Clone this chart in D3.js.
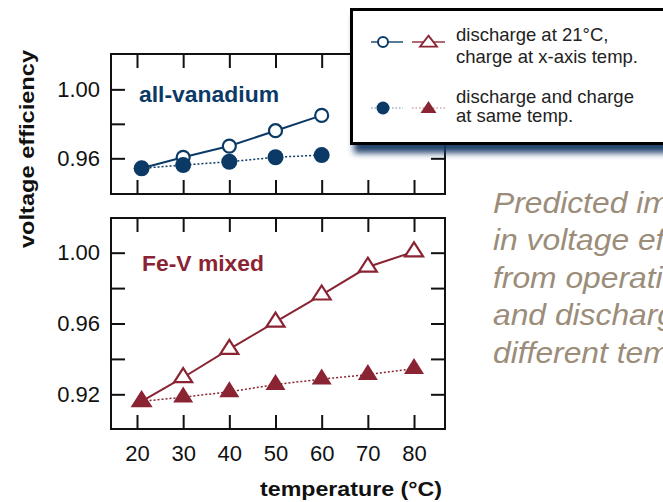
<!DOCTYPE html>
<html>
<head>
<meta charset="utf-8">
<script src="https://cdn.jsdelivr.net/npm/d3@7"></script>
<style>
  body { margin: 0; background: #fff; }
  svg { display: block; font-family: "Liberation Sans", Arial, sans-serif; }
</style>
</head>
<body>
<script>
// values
var xTicks = [20, 30, 40, 50, 60, 70, 80];
var vanTemps = [21, 30, 40, 50, 60];
var vanOpen = [0.9542, 0.9606, 0.9671, 0.9760, 0.9849];
var vanFilled = [0.9542, 0.9561, 0.9580, 0.9606, 0.9619];
var fevTemps = [21, 30, 40, 50, 60, 70, 80];
var fevOpen = [0.9160, 0.9295, 0.9455, 0.9609, 0.9762, 0.9919, 1.0006];
var fevFilled = [0.9160, 0.9184, 0.9214, 0.9255, 0.9286, 0.9311, 0.9345];
var topTicks = [0.96, 0.98, 1.00];
var topTickLabels = ["0.96", "", "1.00"];
var botTicks = [0.92, 0.94, 0.96, 0.98, 1.00];
var botTickLabels = ["0.92", "", "0.96", "", "1.00"];
var legendText = [["discharge at 21\u00b0C,", "charge at x-axis temp."],
                  ["discharge and charge", "at same temp."]];
var noteLines = ["Predicted improvement", "in voltage efficiency", "from operating charge",
                 "and discharge at", "different temperatures"];

var navy = "#0b3a66", maroon = "#8a2433";

var svg = d3.select("body").append("svg")
    .attr("width", 663)
    .attr("height", 502);

var defs = svg.append("defs");
defs.append("filter")
    .attr("id", "shadow")
    .attr("x", "-10%").attr("y", "-10%")
    .attr("width", "130%").attr("height", "140%")
  .append("feDropShadow")
    .attr("dx", 4).attr("dy", 8)
    .attr("stdDeviation", 3)
    .attr("flood-color", "#163a66")
    .attr("flood-opacity", 0.95);

// custom triangle: centroid at origin, width w, height h
function tri(w, h) {
  return {draw: function(ctx) {
    ctx.moveTo(0, -2 * h / 3);
    ctx.lineTo(w / 2, h / 3);
    ctx.lineTo(-w / 2, h / 3);
    ctx.closePath();
  }};
}

var x = d3.scaleLinear().domain([14.37, 86.71]).range([111, 445]);

function panel(y, yTicks, yLabels, showX) {
  var g = svg.append("g");
  var r = y.range();

  g.append("rect")
      .attr("x", 111).attr("y", r[1])
      .attr("width", 334).attr("height", r[0] - r[1])
      .attr("fill", "none")
      .attr("stroke", "#111")
      .attr("stroke-width", 2);

  var left = g.append("g")
      .attr("transform", "translate(111,0)")
      .call(d3.axisLeft(y).tickValues(yTicks).tickSize(-14).tickPadding(11)
        .tickFormat(function(d, i) { return yLabels[i]; }));
  var right = g.append("g")
      .attr("transform", "translate(445,0)")
      .call(d3.axisRight(y).tickValues(yTicks).tickSize(-14).tickFormat(""));
  var top = g.append("g")
      .attr("transform", "translate(0," + r[1] + ")")
      .call(d3.axisTop(x).tickValues(xTicks).tickSize(-14).tickFormat(""));
  var bottom = g.append("g")
      .attr("transform", "translate(0," + r[0] + ")")
      .call(d3.axisBottom(x).tickValues(xTicks).tickSize(-14).tickPadding(16)
        .tickFormat(showX ? d3.format("d") : ""));

  [left, right, top, bottom].forEach(function(a) {
    a.select(".domain").remove();
    a.selectAll("line").attr("stroke", "#111").attr("stroke-width", 2);
    a.selectAll("text").attr("font-size", 22).attr("fill", "#111")
      .attr("font-family", "'Liberation Sans', Arial, sans-serif");
  });
  return g;
}

function series(g, y, temps, vals, color, dashed) {
  var pts = temps.map(function(t, i) { return {t: t, v: vals[i]}; });
  g.append("path")
      .datum(pts)
      .attr("fill", "none")
      .attr("stroke", color)
      .attr("stroke-width", dashed ? 1.5 : 2)
      .attr("stroke-dasharray", dashed ? "2,2" : null)
      .attr("d", d3.line().x(function(d) { return x(d.t); }).y(function(d) { return y(d.v); }));
  return g.selectAll(null)
      .data(pts)
      .enter().append("path")
      .attr("transform", function(d) { return "translate(" + x(d.t) + "," + y(d.v) + ")"; });
}

// all-vanadium
var yTop = d3.scaleLinear().domain([0.9393, 1.0205]).range([194, 54]);
var gTop = panel(yTop, topTicks, topTickLabels, false);
series(gTop, yTop, vanTemps, vanOpen, navy, false)
    .attr("d", d3.symbol(d3.symbolCircle, Math.PI * 6.5 * 6.5))
    .attr("fill", "#fff").attr("stroke", navy).attr("stroke-width", 2.2);
series(gTop, yTop, vanTemps, vanFilled, navy, true)
    .attr("d", d3.symbol(d3.symbolCircle, Math.PI * 8 * 8))
    .attr("fill", navy);
gTop.append("text")
    .attr("x", 139).attr("y", 102)
    .attr("font-size", 22).attr("font-weight", "bold")
    .attr("fill", navy)
    .attr("textLength", 140).attr("lengthAdjust", "spacingAndGlyphs")
    .text("all-vanadium");

// Fe-V mixed
var yBot = d3.scaleLinear().domain([0.9004, 1.0196]).range([429, 218]);
var gBot = panel(yBot, botTicks, botTickLabels, true);
series(gBot, yBot, fevTemps, fevOpen, maroon, false)
    .attr("d", d3.symbol(tri(18, 14)))
    .attr("fill", "#fff").attr("stroke", maroon).attr("stroke-width", 2.2);
series(gBot, yBot, fevTemps, fevFilled, maroon, true)
    .attr("d", d3.symbol(tri(20, 16)))
    .attr("fill", maroon);
gBot.append("text")
    .attr("x", 142).attr("y", 271)
    .attr("font-size", 22).attr("font-weight", "bold")
    .attr("fill", maroon)
    .attr("textLength", 122).attr("lengthAdjust", "spacingAndGlyphs")
    .text("Fe-V mixed");

// axis titles
svg.append("text")
    .attr("transform", "translate(34,149)rotate(-90)")
    .attr("text-anchor", "middle")
    .attr("font-size", 20).attr("font-weight", "bold").attr("fill", "#111")
    .attr("textLength", 198).attr("lengthAdjust", "spacingAndGlyphs")
    .text("voltage efficiency");
svg.append("text")
    .attr("x", 260).attr("y", 496)
    .attr("font-size", 20).attr("font-weight", "bold").attr("fill", "#111")
    .attr("textLength", 182).attr("lengthAdjust", "spacingAndGlyphs")
    .text("temperature (\u00b0C)");

// side note (runs off the right edge, as in the slide)
svg.append("g")
    .attr("transform", "translate(493,0)scale(1.06,1)")
  .selectAll("text")
    .data(noteLines)
    .enter().append("text")
    .attr("x", 0)
    .attr("y", function(d, i) { return 212.7 + i * 37.5; })
    .attr("font-size", 30)
    .attr("font-style", "italic")
    .attr("fill", "#9b8d79")
    .text(function(d) { return d; });

// legend
var lg = svg.append("g");
lg.append("rect")
    .attr("x", 351.5).attr("y", 9.5)
    .attr("width", 360).attr("height", 134)
    .attr("fill", "#fff")
    .attr("stroke", "#000")
    .attr("stroke-width", 3)
    .attr("filter", "url(#shadow)");

var rows = [
  {y: 42, dashed: false, circ: d3.symbol(d3.symbolCircle, Math.PI * 25), tri: d3.symbol(tri(17, 11)), open: true},
  {y: 108, dashed: true, circ: d3.symbol(d3.symbolCircle, Math.PI * 6.5 * 6.5), tri: d3.symbol(tri(16, 12)), open: false}
];
rows.forEach(function(r, i) {
  [[371, 403, navy], [412, 445, maroon]].forEach(function(s) {
    lg.append("line")
        .attr("x1", s[0]).attr("x2", s[1])
        .attr("y1", r.y).attr("y2", r.y)
        .attr("stroke", s[2])
        .attr("stroke-width", r.dashed ? 1.2 : 1.5)
        .attr("stroke-dasharray", r.dashed ? "1.5,2" : null)
        .attr("stroke-opacity", r.dashed ? 0.6 : 0.9);
  });
  lg.append("path")
      .attr("transform", "translate(383," + r.y + ")")
      .attr("d", r.circ)
      .attr("fill", r.open ? "#fff" : navy)
      .attr("stroke", r.open ? navy : "none")
      .attr("stroke-width", 2);
  lg.append("path")
      .attr("transform", "translate(428.5," + (r.y + 1) + ")")
      .attr("d", r.tri)
      .attr("fill", r.open ? "#fff" : maroon)
      .attr("stroke", r.open ? maroon : "none")
      .attr("stroke-width", 1.8);
  lg.selectAll(null)
      .data(legendText[i])
      .enter().append("text")
      .attr("x", 456)
      .attr("y", function(d, j) { return (i === 0 ? 41 : 102.5) + j * (i === 0 ? 22 : 19.5); })
      .attr("font-size", 18.5)
      .attr("fill", "#222")
      .text(function(d) { return d; });
});
</script>
</body>
</html>
